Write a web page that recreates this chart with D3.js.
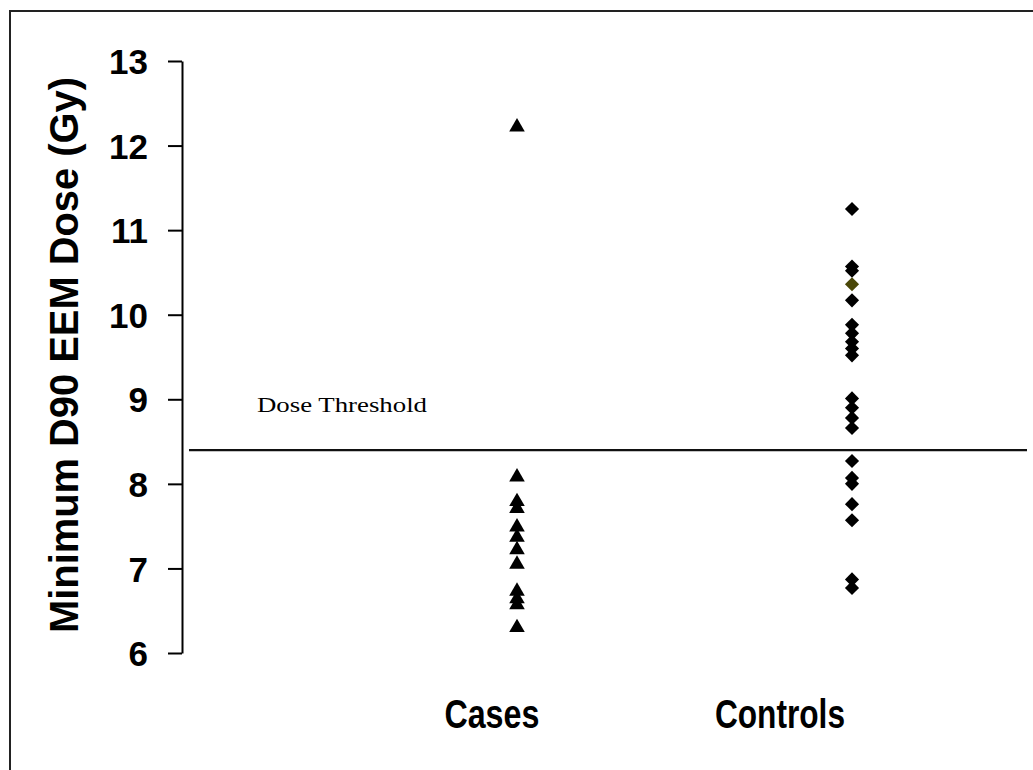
<!DOCTYPE html>
<html>
<head>
<meta charset="utf-8">
<script src="https://cdn.jsdelivr.net/npm/d3@7"></script>
<style>
	body { margin: 0; background: #fff; }
	svg { display: block; }
	.axis path, .axis line { stroke: #000; stroke-width: 2; }
	.axis text { font-family: "Liberation Sans", Arial, sans-serif; font-weight: bold; font-size: 35px; fill: #000; }
</style>
</head>
<body>
<svg id="graph"></svg>
<script>
// categories and positions along the x axis (category index units)
var categories  = [ "Cases", "Controls" ];
var category_x  = [ 1, 2 ];
var label_x     = [ 0.925, 1.785 ];

// series values (Gy)
var cases_values    = [ 12.22, 8.08, 7.79, 7.71, 7.49, 7.37, 7.22, 7.05, 6.73, 6.64, 6.57, 6.30 ];
var controls_values = [ 11.25, 10.57, 10.52, 10.17, 9.88, 9.78, 9.68, 9.60, 9.52,
                        9.01, 8.90, 8.78, 8.66, 8.27, 8.07, 8.00, 7.76, 7.57, 6.87, 6.77 ];
var controls_olive  = [ 10.36 ];

var y_ticks   = [ 6, 7, 8, 9, 10, 11, 12, 13 ];
var threshold = 8.4;

var width  = 1033;
var height = 770;

var svg = d3.select( "#graph" )
	.attr( "width", width )
	.attr( "height", height );

// outer frame (top and left visible)
svg.append( "path" )
	.attr( "d", "M10,770 V11 H1033" )
	.attr( "fill", "none" )
	.attr( "stroke", "#222" )
	.attr( "stroke-width", 2 );

var x = d3.scaleLinear().domain([ 0, 1 ]).range([ 182, 517 ]);
var y = d3.scaleLinear().domain([ 6, 13 ]).range([ 653, 61 ]);

// Y axis
var y_axis = d3.axisLeft( y )
	.tickValues( y_ticks )
	.tickFormat( d3.format( "d" ) )
	.tickSize( 14 )
	.tickSizeOuter( 0 )
	.tickPadding( 20 );
var gy = svg.append( "g" )
	.attr( "class", "y axis" )
	.attr( "transform", "translate(" + x( 0 ) + ",0)" )
	.call( y_axis );
gy.selectAll( "text" ).attr( "dy", "0.36em" );

// Y axis title
svg.append( "text" )
	.attr( "transform", "translate(78," + ( ( 77 + 633 ) / 2 ) + ") rotate(-90)" )
	.attr( "text-anchor", "middle" )
	.attr( "font-family", "Liberation Sans, Arial, sans-serif" )
	.attr( "font-weight", "bold" )
	.attr( "font-size", 40 )
	.attr( "textLength", 556 )
	.attr( "lengthAdjust", "spacingAndGlyphs" )
	.text( "Minimum  D90 EEM Dose (Gy)" );

// category labels
svg.selectAll( "text.cat" )
	.data( categories )
	.enter()
	.append( "text" )
		.attr( "class", "cat" )
		.attr( "x", function( d, i ){ return x( label_x[ i ] ); } )
		.attr( "y", 728 )
		.attr( "text-anchor", "middle" )
		.attr( "font-family", "Liberation Sans, Arial, sans-serif" )
		.attr( "font-weight", "bold" )
		.attr( "font-size", 40 )
		.attr( "textLength", function( d ){ return d === "Cases" ? 95 : 130; } )
		.attr( "lengthAdjust", "spacingAndGlyphs" )
		.text( function( d ){ return d; } );

// threshold line
svg.append( "line" )
	.attr( "x1", 189 )
	.attr( "x2", 1027 )
	.attr( "y1", y( threshold ) )
	.attr( "y2", y( threshold ) )
	.attr( "stroke", "#111" )
	.attr( "stroke-width", 2.2 );

svg.append( "text" )
	.attr( "x", 257 )
	.attr( "y", 412 )
	.attr( "font-family", "Liberation Serif, Times New Roman, serif" )
	.attr( "font-size", 22 )
	.attr( "textLength", 170 )
	.attr( "lengthAdjust", "spacingAndGlyphs" )
	.attr( "fill", "#000" )
	.text( "Dose Threshold" );

// cases: triangles
var tri = d3.symbol().type( d3.symbolTriangle ).size( 105 );
svg.append( "g" )
	.selectAll( "path" )
	.data( cases_values )
	.enter()
	.append( "path" )
		.attr( "d", tri )
		.attr( "transform", function( d ){ return "translate(" + x( category_x[ 0 ] ) + "," + y( d ) + ")"; } )
		.attr( "fill", "#000" );

// controls: diamonds
var dia = d3.symbol().type( d3.symbolSquare ).size( 100 );
svg.append( "g" )
	.selectAll( "path" )
	.data( controls_values.map( v => ({ v: v, c: "#000" }) ).concat( controls_olive.map( v => ({ v: v, c: "#4a4708" }) ) ) )
	.enter()
	.append( "path" )
		.attr( "d", dia )
		.attr( "transform", function( d ){ return "translate(" + x( category_x[ 1 ] ) + "," + y( d.v ) + ") rotate(45)"; } )
		.attr( "fill", function( d ){ return d.c; } );
</script>
</body>
</html>
